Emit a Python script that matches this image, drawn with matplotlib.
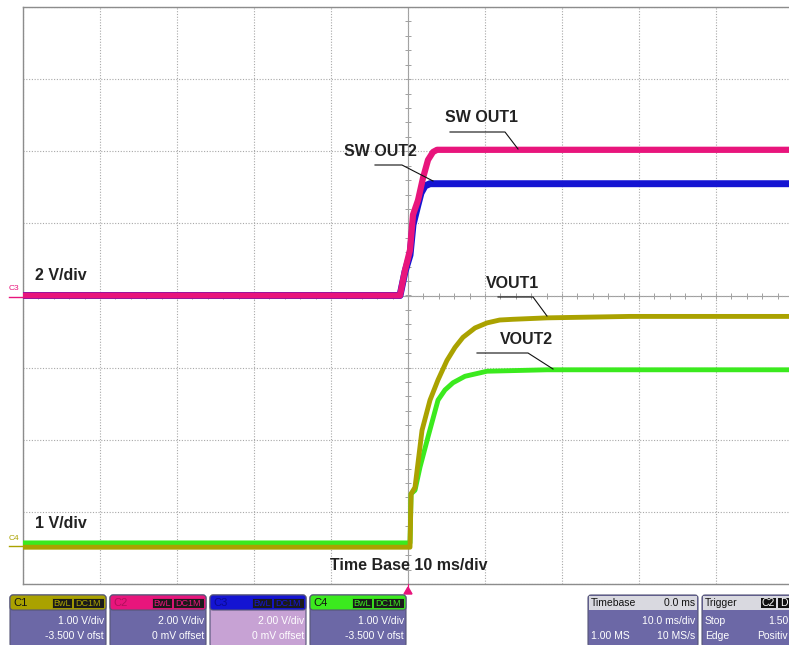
import numpy as np
import matplotlib
matplotlib.use("Agg")
import matplotlib.pyplot as plt
from matplotlib.patches import FancyBboxPatch, Rectangle, Polygon

# scope traces: time in ms, amplitude in screen divisions (0 = centre line)
t_sw1 = [-50, -1.04, -0.39, 0.26, 0.65, 1.30, 1.95, 2.60, 3.25, 3.77, 50]
sw_out1 = [0.0, 0.0, 0.35, 0.63, 1.12, 1.32, 1.63, 1.88, 1.99, 2.02, 2.02]
t_sw2 = [-50, -1.04, -0.39, 0.26, 0.65, 1.30, 1.69, 2.21, 2.86, 50]
sw_out2 = [0.0, 0.0, 0.33, 0.56, 0.98, 1.26, 1.42, 1.52, 1.55, 1.55]
t_v1 = [-50, 0.26, 0.40, 0.91, 1.82, 2.86, 3.90, 5.06, 6.10, 7.14, 8.70, 10.26, 11.9, 13.6, 18.05, 28.8, 50]
vout1 = [-3.49, -3.49, -2.75, -2.66, -1.87, -1.45, -1.17, -0.90, -0.72, -0.58, -0.45, -0.38, -0.34,
         -0.33, -0.31, -0.29, -0.29]
t_v2 = [-50, 0.26, 0.40, 0.91, 1.56, 2.60, 3.90, 4.80, 5.84, 7.40, 10.26, 18.05, 50]
vout2 = [-3.43, -3.43, -2.75, -2.70, -2.38, -1.96, -1.45, -1.31, -1.21, -1.12, -1.05, -1.03, -1.03]

PINK, BLUE, OLIVE, GREEN = "#e8157c", "#1414d2", "#aaa200", "#3bea1e"
BODY = "#6c68a6"
W, H = 789, 645
BOLD = dict(family=["Liberation Sans", "DejaVu Sans"], fontweight="bold", fontsize=11.5, color="#222222")
NARROW = ["Liberation Sans Narrow", "Liberation Sans", "DejaVu Sans"]

fig = plt.figure(figsize=(W / 100, H / 100), dpi=100)

# ---- scope screen: 10 ms/div x 10 div, 8 vertical div ----
ax = fig.add_axes([23 / W, (H - 584) / H, 770 / W, 577 / H])
ax.set_xlim(-50, 50); ax.set_ylim(-4, 4)
ax.set_xticks(np.arange(-50, 51, 10)); ax.set_yticks(np.arange(-4, 5, 1))
ax.grid(True, color="#a8a8a8", ls=(0, (1, 1.5)), lw=0.8)
ax.tick_params(length=0, labelbottom=False, labelleft=False)
for s in ax.spines.values():
    s.set_color("#8c8c8c"); s.set_linewidth(1.0)
ax.axhline(0, color="#a0a0a0", lw=0.8, zorder=1)
ax.axvline(0, color="#a0a0a0", lw=0.8, zorder=1)
mx = np.arange(-50, 51, 2); my = np.arange(-4, 4.01, 0.2)
ax.plot(mx, np.zeros_like(mx), ls="none", marker="|", ms=5, mew=0.7, color="#a0a0a0", zorder=1)
ax.plot(np.zeros_like(my), my, ls="none", marker="_", ms=5, mew=0.7, color="#a0a0a0", zorder=1)

ax.plot(t_v2, vout2, color=GREEN, lw=3.5, solid_joinstyle="round", zorder=3)
ax.plot(t_v1, vout1, color=OLIVE, lw=3.5, solid_joinstyle="round", zorder=4)
ax.plot(t_sw2, sw_out2, color=BLUE, lw=5.0, solid_joinstyle="round", zorder=5)
ax.plot(t_sw1, sw_out1, color=PINK, lw=4.5, solid_joinstyle="round", zorder=6)

# ---- overlay in pixel coordinates for labels and info panels ----
ov = fig.add_axes([0, 0, 1, 1], facecolor="none")
ov.set_xlim(0, W); ov.set_ylim(H, 0); ov.axis("off")

labels = [("SW OUT1", 482, 117, (450, 505, 132), (518, 149)),
          ("SW OUT2", 380, 152, (375, 402, 165), (433, 181)),
          ("VOUT1", 513, 283, (498, 533, 297), (547, 316)),
          ("VOUT2", 526, 340, (477, 528, 353), (553, 369))]
for txt, x, y, (x0, x1, yl), (xe, ye) in labels:
    ov.text(x, y, txt, ha="center", va="center", **BOLD)
    ov.plot([x0, x1, xe], [yl, yl, ye], color="#111111", lw=0.8)

ov.text(35, 276, "2 V/div", ha="left", va="center", **BOLD)
ov.text(35, 523, "1 V/div", ha="left", va="center", **BOLD)
ov.text(330, 566, "Time Base 10 ms/div", ha="left", va="center", **BOLD)
ov.text(9, 289, "C3", fontsize=6, color=PINK, family=NARROW, va="center")
ov.plot([9, 23], [297, 297], color=PINK, lw=1)
ov.text(9, 539, "C4", fontsize=6, color=OLIVE, family=NARROW, va="center")
ov.plot([9, 23], [546, 546], color=OLIVE, lw=1)
ov.add_patch(Polygon([[404, 594], [412, 594], [408, 587]], color=PINK))
ov.plot([408, 408], [584, 588], color=PINK, lw=0.8)

# channel panels
chans = [("C1", 10, OLIVE, BODY, "1.00 V/div", "-3.500 V ofst", "#111111"),
         ("C2", 110, PINK, BODY, "2.00 V/div", "0 mV offset", "#b0105c"),
         ("C3", 210, BLUE, "#c7a2d4", "2.00 V/div", "0 mV offset", "#0a0a90"),
         ("C4", 310, GREEN, BODY, "1.00 V/div", "-3.500 V ofst", "#111111")]
for name, x, hc, bc, l1, l2, nc in chans:
    ov.add_patch(FancyBboxPatch((x, 595), 96, 52, boxstyle="round,pad=0,rounding_size=3",
                                fc=bc, ec="#555577", lw=0.8))
    ov.add_patch(FancyBboxPatch((x, 595), 96, 15, boxstyle="round,pad=0,rounding_size=3",
                                fc=hc, ec="#555577", lw=0.8))
    ov.text(x + 3, 603, name, fontsize=8, color=nc, family=NARROW, va="center")
    ov.add_patch(Rectangle((x + 42, 598), 20, 10, fc="#1a1a1a", ec=hc, lw=0.6))
    ov.add_patch(Rectangle((x + 63, 598), 31, 10, fc="#1a1a1a", ec=hc, lw=0.6))
    ov.text(x + 52, 603, "BwL", fontsize=6.5, color=hc, family=NARROW, ha="center", va="center")
    ov.text(x + 78.5, 603, "DC1M", fontsize=6.5, color=hc, family=NARROW, ha="center", va="center")
    ov.text(x + 94, 621, l1, fontsize=7.5, color="white", family=NARROW, ha="right", va="center")
    ov.text(x + 94, 636, l2, fontsize=7.5, color="white", family=NARROW, ha="right", va="center")

# timebase and trigger panels
for x, w in ((588, 110), (702, 100)):
    ov.add_patch(FancyBboxPatch((x, 595), w, 52, boxstyle="round,pad=0,rounding_size=3",
                                fc=BODY, ec="#555577", lw=0.8))
    ov.add_patch(Rectangle((x + 1, 596), w - 2, 14, fc="#d9d9e0", ec="none"))
tb = dict(fontsize=7.5, family=NARROW, va="center")
ov.text(591, 603, "Timebase", color="#111111", **tb)
ov.text(695, 603, "0.0 ms", color="#111111", ha="right", **tb)
ov.text(695, 621, "10.0 ms/div", color="white", ha="right", **tb)
ov.text(591, 636, "1.00 MS", color="white", **tb)
ov.text(695, 636, "10 MS/s", color="white", ha="right", **tb)
ov.text(705, 603, "Trigger", color="#111111", **tb)
ov.add_patch(Rectangle((761, 598), 15, 10, fc="#111111", ec="none"))
ov.text(768.5, 603, "C2", color="white", ha="center", **tb)
ov.add_patch(Rectangle((778, 598), 12, 10, fc="#111111", ec="none"))
ov.text(780, 603, "D", color="white", **tb)
ov.text(705, 621, "Stop", color="white", **tb)
ov.text(768, 621, "1.50", color="white", **tb)
ov.text(705, 636, "Edge", color="white", **tb)
ov.text(788, 636, "Positiv", color="white", ha="right", **tb)

fig.savefig("out.png", dpi=100, facecolor="white")
